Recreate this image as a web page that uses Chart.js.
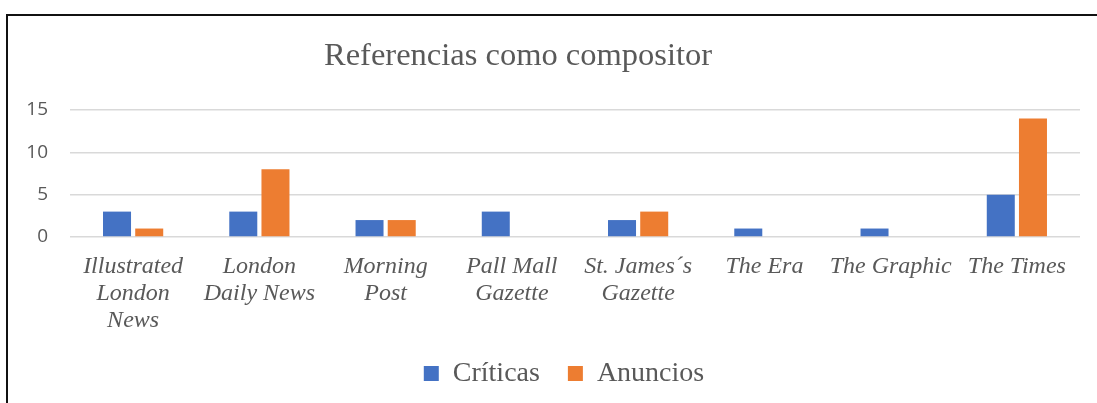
<!DOCTYPE html>
<html>
<head>
<meta charset="utf-8">
<script src="https://cdn.jsdelivr.net/npm/chart.js@4"></script>
<style>
  html, body { margin: 0; padding: 0; background: #fff; }
  #wrap { position: relative; width: 1097px; height: 403px; overflow: hidden; }
  #frame {
    position: absolute; left: 6px; top: 14px; width: 1200px; height: 500px;
    border-left: 2px solid #111; border-top: 2px solid #111; pointer-events: none;
  }
  canvas { position: absolute; left: 0; top: 0; }
</style>
</head>
<body>
<div id="wrap">
  <canvas id="chart" width="1097" height="403"></canvas>
  <div id="frame"></div>
</div>
<script>
/* ---- Data ---- */
const CATEGORIES = [
  ['Illustrated', 'London', 'News'],
  ['London', 'Daily News'],
  ['Morning', 'Post'],
  ['Pall Mall', 'Gazette'],
  ['St. James´s', 'Gazette'],
  'The Era',
  'The Graphic',
  'The Times',
];
const CRITICAS = [3, 3, 2, 3, 2, 1, 1, 5];
const ANUNCIOS = [1, 8, 2, 0, 3, 0, 0, 14];
const Y_TICKS = [0, 5, 10, 15];

const GREY = '#595959';
const SERIF = '"Liberation Serif", "Times New Roman", serif';

// nudge title / legend sideways, the way the original sits off-centre
const shiftBoxes = {
  id: 'shiftBoxes',
  afterLayout(chart) {
    chart.titleBlock.left -= 22;
    chart.titleBlock.right -= 22;
    chart.legend.left += 24;
    chart.legend.right += 24;
  },
};

new Chart(document.getElementById('chart'), {
  type: 'bar',
  data: {
    labels: CATEGORIES,
    datasets: [
      { label: 'Críticas', data: CRITICAS, backgroundColor: '#4472C4' },
      { label: 'Anuncios', data: ANUNCIOS, backgroundColor: '#ED7D31' },
    ],
  },
  plugins: [shiftBoxes],
  options: {
    responsive: false,
    animation: false,
    categoryPercentage: 0.51,
    barPercentage: 0.87,
    layout: { padding: { left: 0, right: 17, top: 0, bottom: 5.5 } },
    plugins: {
      title: {
        display: true,
        text: 'Referencias como compositor',
        color: GREY,
        font: { family: SERIF, size: 32.5, weight: 'normal' },
        padding: { top: 37, bottom: 34 },
      },
      legend: {
        position: 'bottom',
        labels: {
          color: GREY,
          font: { family: SERIF, size: 28 },
          boxWidth: 15,
          boxHeight: 15,
          padding: 28,
        },
      },
      tooltip: { enabled: false },
    },
    scales: {
      x: {
        grid: { display: false },
        border: { display: false },
        ticks: {
          color: GREY,
          font: { family: SERIF, size: 24, style: 'italic', lineHeight: '27px' },
          padding: 8,
          maxRotation: 0,
          autoSkip: false,
        },
        afterFit: (scale) => { scale.height = 94.5; },
      },
      y: {
        min: 0,
        max: 15,
        afterBuildTicks: (scale) => { scale.ticks = Y_TICKS.map((v) => ({ value: v })); },
        grid: { color: '#d9d9d9', lineWidth: 1.5, drawTicks: false },
        border: { display: false },
        ticks: {
          color: GREY,
          font: { family: '"Open Sans", Arial, sans-serif', size: 19 },
          padding: 22,
        },
        afterFit: (scale) => { scale.width = 70; },
      },
    },
  },
});
</script>
</body>
</html>
